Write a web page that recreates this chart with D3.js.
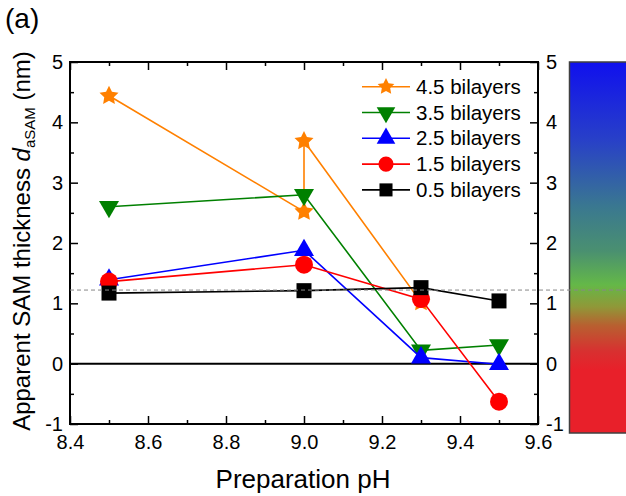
<!DOCTYPE html>
<html><head><meta charset="utf-8">
<script src="https://cdn.jsdelivr.net/npm/d3@7"></script>
<style>
body{margin:0;background:#fff;}
svg{display:block;font-family:Arial,"Liberation Sans",sans-serif;}
</style></head>
<body>
<script>
// ---- data ----
const xTicks = [8.4, 8.6, 8.8, 9.0, 9.2, 9.4, 9.6];
const xMinor = [8.5, 8.7, 8.9, 9.1, 9.3, 9.5];
const yTicks = [-1, 0, 1, 2, 3, 4, 5];
const yMinor = [-0.5, 0.5, 1.5, 2.5, 3.5, 4.5];
const seriesNames = ["4.5 bilayers", "3.5 bilayers", "2.5 bilayers", "1.5 bilayers", "0.5 bilayers"];
const pH45 = [8.5, 9.0, 9.0, 9.3];
const d45  = [4.44, 2.52, 3.69, 1.02];
const pH35 = [8.5, 9.0, 9.3, 9.5];
const d35  = [2.60, 2.80, 0.22, 0.31];
const pH25 = [8.5, 9.0, 9.3, 9.5];
const d25  = [1.39, 1.88, 0.10, -0.01];
const pH15 = [8.5, 9.0, 9.3, 9.5];
const d15  = [1.36, 1.64, 1.07, -0.63];
const pH05 = [8.5, 9.0, 9.3, 9.5];
const d05  = [1.17, 1.21, 1.26, 1.04];
const refLine = 1.22;
const colorStops = [[0,"#1010ee"],[0.21,"#2840c8"],[0.39,"#3a7890"],[0.51,"#4a9070"],[0.60,"#64b848"],[0.66,"#909838"],[0.71,"#b86030"],[0.78,"#d83030"],[0.83,"#e8202a"],[1,"#e8202a"]];

const W = 626, H = 496;
const L = 70, R = 538, T = 62, B = 424;
const svg = d3.select("body").append("svg").attr("width", W).attr("height", H);
const x = d3.scaleLinear().domain([8.4, 9.6]).range([L, R]);
const y = d3.scaleLinear().domain([-1, 5]).range([B, T]);

// fat five-point star (Origin style)
const fatStar = {
  draw(ctx, size) {
    const r = Math.sqrt(size / 1.1), ri = r * 0.5;
    for (let i = 0; i < 10; i++) {
      const a = -Math.PI / 2 + i * Math.PI / 5, rr = i % 2 ? ri : r;
      const px = rr * Math.cos(a), py = rr * Math.sin(a);
      i ? ctx.lineTo(px, py) : ctx.moveTo(px, py);
    }
    ctx.closePath();
  }
};

// colorbar
const defs = svg.append("defs");
const grad = defs.append("linearGradient").attr("id","cb").attr("x1",0).attr("y1",0).attr("x2",0).attr("y2",1);
colorStops.forEach(s => grad.append("stop").attr("offset", s[0]).attr("stop-color", s[1]));
svg.append("rect").attr("x",569.5).attr("y",62).attr("width",80).attr("height",371)
  .attr("fill","url(#cb)").attr("stroke","#404040").attr("stroke-width",1.5);

// zero line
svg.append("line").attr("x1",L).attr("x2",R).attr("y1",y(0)).attr("y2",y(0))
  .attr("stroke","#000").attr("stroke-width",2);

// axes
function styleAxis(g){ g.select(".domain").remove(); g.selectAll("line").attr("stroke","#000").attr("stroke-width",1.5);
  g.selectAll("text").attr("font-size",20).attr("fill","#000").attr("font-family",'Arial,"Liberation Sans",sans-serif'); }
svg.append("g").attr("transform",`translate(0,${B})`)
  .call(d3.axisBottom(x).tickValues(xTicks).tickFormat(d3.format(".1f")).tickSizeInner(-8).tickSizeOuter(0).tickPadding(11)).call(styleAxis);
svg.append("g").attr("transform",`translate(0,${B})`)
  .call(d3.axisBottom(x).tickValues(xMinor).tickFormat("").tickSizeInner(-4).tickSizeOuter(0)).call(styleAxis);
svg.append("g").attr("transform",`translate(0,${T})`)
  .call(d3.axisTop(x).tickValues(xTicks).tickFormat("").tickSizeInner(-8).tickSizeOuter(0)).call(styleAxis);
svg.append("g").attr("transform",`translate(0,${T})`)
  .call(d3.axisTop(x).tickValues(xMinor).tickFormat("").tickSizeInner(-4).tickSizeOuter(0)).call(styleAxis);
svg.append("g").attr("transform",`translate(${L},0)`)
  .call(d3.axisLeft(y).tickValues(yTicks).tickFormat(d => String(d)).tickSizeInner(-8).tickSizeOuter(0).tickPadding(7)).call(styleAxis);
svg.append("g").attr("transform",`translate(${L},0)`)
  .call(d3.axisLeft(y).tickValues(yMinor).tickFormat("").tickSizeInner(-4).tickSizeOuter(0)).call(styleAxis);
svg.append("g").attr("transform",`translate(${R},0)`)
  .call(d3.axisRight(y).tickValues(yTicks).tickFormat(d => String(d)).tickSizeInner(-8).tickSizeOuter(0).tickPadding(8)).call(styleAxis);
svg.append("g").attr("transform",`translate(${R},0)`)
  .call(d3.axisRight(y).tickValues(yMinor).tickFormat("").tickSizeInner(-4).tickSizeOuter(0)).call(styleAxis);

// frame
svg.append("rect").attr("x",L).attr("y",T).attr("width",R-L).attr("height",B-T)
  .attr("fill","none").attr("stroke","#000").attr("stroke-width",2);

// series
const series = [
  {name:seriesNames[0], xs:pH45, ys:d45, color:"#ff8000", sym:fatStar, size:110, rot:0, lsize:85},
  {name:seriesNames[1], xs:pH35, ys:d35, color:"#008000", sym:d3.symbolTriangle, size:173, rot:180, lsize:150},
  {name:seriesNames[2], xs:pH25, ys:d25, color:"#0000ff", sym:d3.symbolTriangle, size:173, rot:0, lsize:150},
  {name:seriesNames[3], xs:pH15, ys:d15, color:"#ff0000", sym:d3.symbolCircle, size:254, rot:0, lsize:180},
  {name:seriesNames[4], xs:pH05, ys:d05, color:"#000000", sym:d3.symbolSquare, size:225, rot:0, lsize:170}
];
const line = d3.line().x(d => x(d[0])).y(d => y(d[1]));
series.forEach(s => {
  const pts = s.xs.map((v,i) => [v, s.ys[i]]);
  const g = svg.append("g");
  g.append("path").attr("d", line(pts)).attr("fill","none").attr("stroke", s.color).attr("stroke-width",1.6);
  g.selectAll("path.m").data(pts).join("path").attr("class","m")
    .attr("d", d3.symbol().type(s.sym).size(s.size))
    .attr("transform", d => `translate(${x(d[0])},${y(d[1])}) rotate(${s.rot})`)
    .attr("fill", s.color);
});

// dashed reference line
svg.append("line").attr("x1",L).attr("x2",W).attr("y1",y(refLine)).attr("y2",y(refLine))
  .attr("stroke","#888").attr("stroke-width",1).attr("stroke-dasharray","4,3");

// legend
const legY0 = 86.7, legDy = 25.8;
series.forEach((s,i) => {
  const yy = legY0 + i*legDy;
  svg.append("line").attr("x1",362).attr("x2",410).attr("y1",yy).attr("y2",yy).attr("stroke",s.color).attr("stroke-width",1.6);
  svg.append("path").attr("d", d3.symbol().type(s.sym).size(s.lsize)())
    .attr("transform",`translate(386,${yy}) rotate(${s.rot})`).attr("fill",s.color);
  svg.append("text").attr("x",416).attr("y",yy+7).attr("font-size",20.5).attr("fill","#000").text(s.name);
});

// axis titles
svg.append("text").attr("x",303).attr("y",488).attr("text-anchor","middle").attr("font-size",26).text("Preparation pH");
const yt = svg.append("text").attr("transform","translate(30,241) rotate(-90)").attr("text-anchor","middle").attr("font-size",24);
yt.append("tspan").text("Apparent SAM thickness ");
yt.append("tspan").attr("font-style","italic").text("d");
yt.append("tspan").attr("font-size",15).attr("dy",5).text("aSAM");
yt.append("tspan").attr("dy",-5).text(" (nm)");

svg.append("text").attr("x",5).attr("y",28).attr("font-size",28).text("(a)");
</script>
</body></html>
